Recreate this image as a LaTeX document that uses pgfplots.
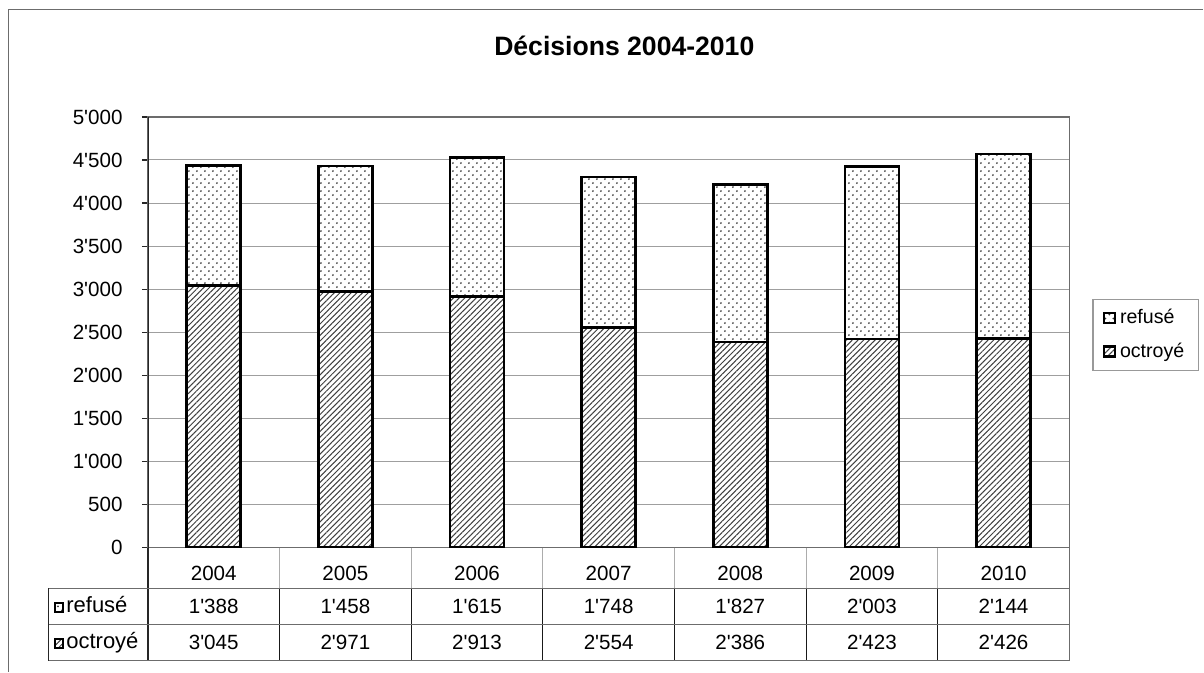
\documentclass[border=0pt]{standalone}
\usepackage{fontspec}
\setmainfont{Liberation Sans}
\usepackage{pgfplots}
\pgfplotsset{compat=1.18}
\usepackage{pgfplotstable}
\usetikzlibrary{patterns,patterns.meta}

% staggered sparse dots for "refusé"
\pgfdeclarepatternformonly{sparse dots}{\pgfpointorigin}{\pgfpoint{4pt}{4pt}}{\pgfpoint{4pt}{4pt}}{%
  \pgfpathcircle{\pgfpoint{1pt}{1pt}}{0.5pt}%
  \pgfpathcircle{\pgfpoint{3pt}{3pt}}{0.5pt}%
  \pgfusepath{fill}}

\tikzset{
  octroye/.style={preaction={fill=white},
    preaction={pattern={Lines[angle=45,distance=2pt,line width=0.5pt]}, pattern color=black!75}},
  refuse/.style={preaction={fill=white},
    preaction={pattern=sparse dots, pattern color=black!80}},
}

\pgfplotstableread{
year octroye refuse
2004 3045 1388
2005 2971 1458
2006 2913 1615
2007 2554 1748
2008 2386 1827
2009 2423 2003
2010 2426 2144
}\data

\begin{document}
\begin{tikzpicture}
\path (-74pt,-62pt) rectangle (528pt,274pt);
\draw[gray!85!black, line width=0.7pt] (-69.75pt,-62pt) -- (-69.75pt,269.25pt) -- (528pt,269.25pt);
\begin{axis}[
  at={(0,0)}, anchor=south west, scale only axis,
  width=461pt, height=215.5pt,
  ybar stacked, bar width=27pt,
  xmin=-0.5, xmax=6.5, ymin=0, ymax=5000,
  ytick={0,500,...,5000},
  xtick={0,...,6},
  xticklabels={2004,2005,2006,2007,2008,2009,2010},
  xtick style={draw=none},
  xticklabel style={anchor=center, yshift=-10pt},
  ytick pos=left,
  tick align=outside, major tick length=3pt,
  ytick style={black!85, line width=0.6pt},
  ymajorgrids, grid style={gray!75, line width=0.5pt},
  axis line style={gray!85!black, line width=0.6pt},
  /pgf/number format/1000 sep={\textquotesingle},
  /pgf/number format/assume math mode=true,
  tick label style={font=\fontsize{10.3}{12}\selectfont},
  yticklabel style={anchor=east, inner sep=0pt, xshift=-9.5pt},
  title={Décisions 2004-2010},
  title style={font=\fontsize{13.3}{15}\selectfont\bfseries,
    at={(axis description cs:0.517,1.136)}, anchor=center},
  legend style={at={(axis description cs:1.025,0.578)}, anchor=north west,
    draw=gray!80, line width=0.6pt, inner xsep=5pt, inner ysep=3pt,
    row sep=4pt, font=\fontsize{9.8}{11}\selectfont},
  legend cell align=left,
  reverse legend,
  legend image code/.code={\draw[#1, line width=1.1pt] (0pt,-2.6pt) rectangle (5.4pt,2.6pt);},
]
\addplot[draw=black, line width=1.3pt, octroye] table[x expr=\coordindex, y=octroye]{\data};
\addplot[draw=black, line width=1.3pt, refuse] table[x expr=\coordindex, y=refuse]{\data};
\legend{octroyé, refusé}
\draw[black!85, line width=0.6pt] (rel axis cs:0,0) -- (rel axis cs:0,1);
\end{axis}

% data table below the plot
\def\cw{65.857pt}
\foreach \k in {1,...,6} \draw[gray!65, line width=0.5pt] (\k*\cw,0) -- (\k*\cw,-20.35pt);
\foreach \k in {1,...,6} \draw[black!90, line width=0.5pt] (\k*\cw,-20.35pt) -- (\k*\cw,-56.5pt);
\draw[gray!85!black, line width=0.6pt] (461pt,0) -- (461pt,-56.5pt);
\draw[black!85, line width=0.6pt] (0,0) -- (0,-56.5pt);
\draw[black!85, line width=0.5pt] (-49.5pt,-20.35pt) -- (-49.5pt,-56.5pt);
\foreach \yy in {-20.35pt,-38.5pt,-56.5pt}
  \draw[gray!85!black, line width=0.5pt] (-49.5pt,\yy) -- (461pt,\yy);
\draw[black, line width=1.1pt, refuse] (-46.5pt,-32pt) rectangle (-42.3pt,-27.6pt);
\draw[black, line width=1.1pt, octroye] (-46.5pt,-50.2pt) rectangle (-42.3pt,-45.8pt);
\node[anchor=base west, inner sep=0pt, font=\fontsize{11}{13}\selectfont] at (-41pt,-32.6pt) {refusé};
\node[anchor=base west, inner sep=0pt, font=\fontsize{11}{13}\selectfont] at (-41pt,-50.6pt) {octroyé};
\foreach \k in {0,...,6}{
  \pgfplotstablegetelem{\k}{refuse}\of\data \let\vr\pgfplotsretval
  \pgfplotstablegetelem{\k}{octroye}\of\data \let\vo\pgfplotsretval
  \node[font=\fontsize{10.3}{12}\selectfont] at ({(\k+0.5)*\cw},-29.5pt)
    {\pgfmathprintnumber[1000 sep={\textquotesingle}, assume math mode=true]{\vr}};
  \node[font=\fontsize{10.3}{12}\selectfont] at ({(\k+0.5)*\cw},-47.5pt)
    {\pgfmathprintnumber[1000 sep={\textquotesingle}, assume math mode=true]{\vo}};
}
\end{tikzpicture}
\end{document}
